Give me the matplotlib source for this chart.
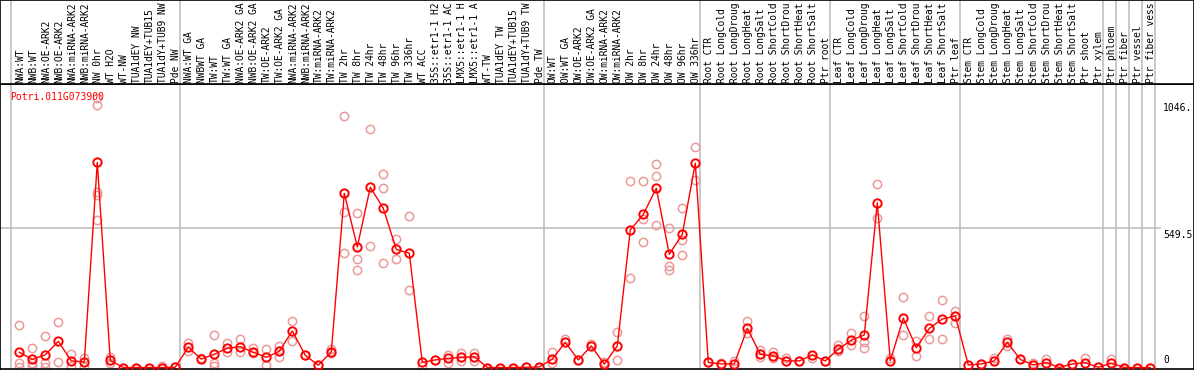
import matplotlib
matplotlib.use("Agg")
import matplotlib.pyplot as plt
import numpy as np

# sample labels (one column each), as far as the header shows them
labels = [
    "NWA:WT", "NWB:WT", "NWA:OE-ARK2", "NWB:OE-ARK2", "NWA:miRNA-ARK2", "NWB:miRNA-ARK2",
    "NW 0hr", "WT H2O", "WT-NW", "TUA1dEY NW", "TUA1dEY+TUB15", "TUA1dY+TUB9 NW", "Pde NW",
    "NWA:WT GA", "NWBWT GA", "TW:WT", "TW:WT GA", "NWA:OE-ARK2 GA", "NWB:OE-ARK2 GA",
    "TW:OE-ARK2", "TW:OE-ARK2 GA", "NWA:miRNA-ARK2", "NWB:miRNA-ARK2", "TW:miRNA-ARK2",
    "TW:miRNA-ARK2", "TW 2hr", "TW 8hr", "TW 24hr", "TW 48hr", "TW 96hr", "TW 336hr",
    "WT ACC", "35S::etr1-1 H2", "35S::etr1-1 AC", "LMX5::etr1-1 H", "LMX5::etr1-1 A",
    "WT-TW", "TUA1dEY TW", "TUA1dEY+TUB15", "TUA1dY+TUB9 TW", "Pde TW",
    "OW:WT", "OW:WT GA", "OW:OE-ARK2", "OW:OE-ARK2 GA", "OW:miRNA-ARK2", "OW:miRNA-ARK2",
    "OW 2hr", "OW 8hr", "OW 24hr", "OW 48hr", "OW 96hr", "OW 336hr",
    "Root CTR", "Root LongCold", "Root LongDroug", "Root LongHeat", "Root LongSalt",
    "Root ShortCold", "Root ShortDrou", "Root ShortHeat", "Root ShortSalt", "Ptr root",
    "Leaf CTR", "Leaf LongCold", "Leaf LongDroug", "Leaf LongHeat", "Leaf LongSalt",
    "Leaf ShortCold", "Leaf ShortDrou", "Leaf ShortHeat", "Leaf ShortSalt", "Ptr leaf",
    "Stem CTR", "Stem LongCold", "Stem LongDroug", "Stem LongHeat", "Stem LongSalt",
    "Stem ShortCold", "Stem ShortDrou", "Stem ShortHeat", "Stem ShortSalt", "Ptr shoot",
    "Ptr xylem", "Ptr phloem", "Ptr fiber", "Ptr vessel", "Ptr fiber vess",
]

# first column of each group
group_starts = [0, 13, 41, 53, 63, 73, 84, 85, 86, 87, 88]

# mean expression per column
means = [60, 32, 50, 103, 26, 22, 808, 28, 0, 0, 0, 0, 1,
         80, 33, 52, 76, 82, 60, 40, 64, 144, 48, 9, 61, 686, 475, 710, 627, 465, 450,
         20, 30, 36, 40, 43, 0, 0, 0, 1, 2,
         33, 99, 30, 85, 13, 85, 542, 603, 706, 446, 525, 805,
         20, 14, 14, 154, 52, 46, 26, 26, 49, 26,
         72, 108, 128, 649, 27, 194, 78, 154, 191, 203,
         10, 14, 26, 99, 32, 10, 19, 0, 14, 19, 1, 17,
         0, 0, 0]

# replicate values per column
reps = [[167, 17, 3], [76, 17, 4], [125, 17, 3], [180, 22], [53, 6], [39, 3],
        [1062, 1032, 692, 679, 581], [43, 17], [0], [0], [0], [5], [2],
        [95, 65], [36], [128, 19, 6], [95, 60], [112, 60], [76, 56], [73, 9], [86, 40],
        [183, 104], [48], [9], [73, 56], [991, 611, 452], [607, 426, 383], [938, 479],
        [761, 706, 410], [506, 426], [597, 304], [7], [28], [49, 16], [56, 27], [56, 27],
        [0], [0], [0], [1], [2],
        [62, 16], [113], [30], [93], [23], [140, 30], [735, 352], [735, 585, 494],
        [801, 753, 560], [548, 400, 384], [627, 502, 442], [867, 738],
        [20], [19], [27], [183, 135], [69, 43], [60, 39], [36], [26], [39], [26],
        [89, 65], [135, 89], [203, 102, 76], [722, 588], [39], [276, 128], [106, 45],
        [203, 112], [266, 112], [224, 174],
        [10], [14], [39], [112, 86], [32], [19], [33], [0], [14], [39], [1], [32],
        [0], [0], [0]]

gene = "Potri.011G073900"
ytick_vals = [1046, 549.5, 0]
ytick_text = ["1046.", "549.5", "0"]

W, H = 1194, 370
red = "#ff0000"
pink = "#eb9a9a"
grid = "#c0c0c0"
mono = "DejaVu Sans Mono"

fig = plt.figure(figsize=(W / 100, H / 100), dpi=100)
right = 1193.5 / W
ax = fig.add_axes([0, 1 / H, right, 285 / H])
lab = fig.add_axes([0, 286 / H, right, 84 / H])

xlim = (-19.3 / 13, (1193.5 - 19.3) / 13)
for a in (ax, lab):
    a.set_xlim(*xlim)
    a.set_xticks([])
    a.set_yticks([])
    for s in a.spines.values():
        s.set_color("black")
        s.set_linewidth(1.2)
    for g in group_starts:
        a.axvline(g - 0.64, color=grid, lw=1.2, zorder=0)
lab.set_ylim(0, 1)
ax.set_ylim(-5.9, 1116.6)

ax.axhline(549.5, xmax=1160 / 1193.5, color=grid, lw=1.2, zorder=0)

x = np.arange(len(means))
rx = np.concatenate([[i] * len(r) for i, r in enumerate(reps)])
ry = np.concatenate(reps)
ax.plot(rx, ry, "o", ms=6.0, mfc="none", mec=pink, mew=1.1, zorder=2)
ax.plot(x, means, "-", color=red, lw=1.0, zorder=3)
ax.plot(x, means, "o", ms=6.0, mfc="none", mec=red, mew=1.4, zorder=4)

for i, t in enumerate(labels):
    lab.text(i + 0.05, 0.01, t, rotation=90, ha="center", va="bottom",
             family=mono, fontsize=6.9, color="black")

ax.text(-0.715, 1066, gene, ha="left", va="center",
        family=mono, fontsize=7.0, color=red)

for v, t in zip(ytick_vals, ytick_text):
    ax.text((1163 - 19.3) / 13, v + (8 if v == 0 else -6), t, ha="left",
            va="bottom" if v == 0 else "top", family=mono, fontsize=7.0, color="black")

fig.savefig("out.png", dpi=100)
